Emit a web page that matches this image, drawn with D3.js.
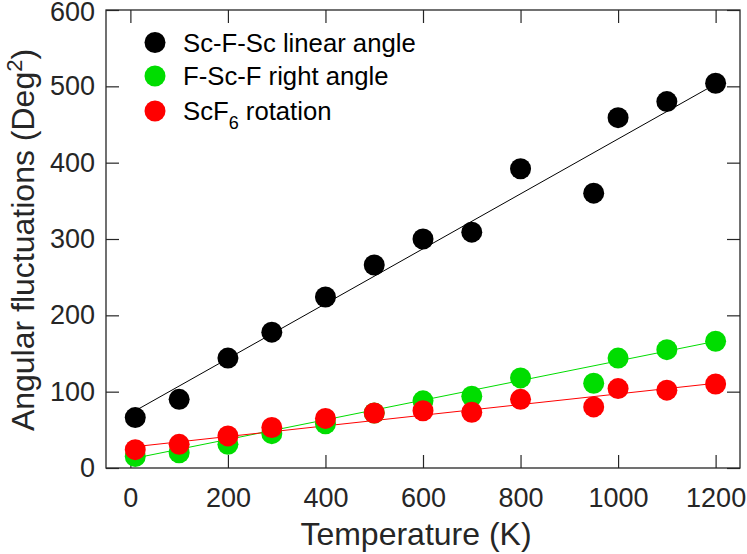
<!DOCTYPE html>
<html>
<head>
<meta charset="utf-8">
<script src="https://cdn.jsdelivr.net/npm/d3@7"></script>
<style>
  body { margin: 0; background: #fff; }
  text { font-family: "Liberation Sans", Arial, sans-serif; }
</style>
</head>
<body>
<div class="chart"></div>
<script>
// data
const temps = [10, 100, 200, 290, 400, 500, 600, 700, 800, 950, 1000, 1100, 1200];
const linearAngle = [66, 90, 144, 178, 224, 266, 300, 309, 392, 360, 459, 480, 504];
const rightAngle = [15, 20, 31, 45, 58, 72, 88, 94, 118, 111, 144, 155, 166];
const rotation = [24, 31, 42, 53, 65, 72, 75, 73, 90, 80, 104, 102, 110];

// fitted lines, endpoints
const fitT = [10, 1200];
const fitLinear = [75, 503];
const fitRight = [13, 166];
const fitRotation = [28, 111];

const xTicks = [0, 200, 400, 600, 800, 1000, 1200];
const yTicks = [0, 100, 200, 300, 400, 500, 600];

const series = [
    {name: 'Sc-F-Sc linear angle', color: '#000000', values: linearAngle, fit: fitLinear},
    {name: 'F-Sc-F right angle', color: '#00dd00', values: rightAngle, fit: fitRight},
    {name: 'ScF', sub: '6', rest: ' rotation', color: '#ff0000', values: rotation, fit: fitRotation}
];

const width = 747, height = 554;
const box = {left: 106, right: 740, top: 10, bottom: 468};
const axisColor = '#262626';

const svg = d3.select('.chart').append('svg')
    .attr('width', width).attr('height', height);

const x = d3.scaleLinear().domain([-50, 1250]).range([box.left, box.right]);
const y = d3.scaleLinear().domain([0, 600]).range([box.bottom, box.top]);

// axes, ticks inward on all four sides
const tickLen = 13;
const fmt = d3.format('d');
const xAxisB = d3.axisBottom(x).tickValues(xTicks).tickFormat(fmt).tickSizeInner(-tickLen).tickSizeOuter(0).tickPadding(20);
const xAxisT = d3.axisTop(x).tickValues(xTicks).tickSizeInner(-tickLen).tickSizeOuter(0).tickFormat('');
const yAxisL = d3.axisLeft(y).tickValues(yTicks).tickFormat(fmt).tickSizeInner(-tickLen).tickSizeOuter(0).tickPadding(11);
const yAxisR = d3.axisRight(y).tickValues(yTicks).tickSizeInner(-tickLen).tickSizeOuter(0).tickFormat('');

function styleAxis(g){
    g.select('.domain').remove();
    g.selectAll('line').attr('stroke', axisColor).attr('stroke-width', 1.2);
    g.selectAll('text').attr('fill', axisColor).style('font-size', '27px');
}

svg.append('g').attr('transform', `translate(0,${box.bottom})`).call(xAxisB).call(styleAxis);
svg.append('g').attr('transform', `translate(0,${box.top})`).call(xAxisT).call(styleAxis);
const yAxisDraw = svg.append('g').attr('transform', `translate(${box.left},0)`).call(yAxisL).call(styleAxis);
svg.append('g').attr('transform', `translate(${box.right},0)`).call(yAxisR).call(styleAxis);
// top label sits right at the edge, nudge it down a touch
yAxisDraw.selectAll('.tick').filter(d => d === 600).select('text').attr('dy', '0.4em');

svg.append('rect')
    .attr('x', box.left).attr('y', box.top)
    .attr('width', box.right - box.left).attr('height', box.bottom - box.top)
    .attr('fill', 'none').attr('stroke', axisColor).attr('stroke-width', 1.3);

// fit lines and points
const line = d3.line().x(d => x(d[0])).y(d => y(d[1]));
series.forEach(s => {
    svg.append('path')
        .datum(fitT.map((t, i) => [t, s.fit[i]]))
        .attr('d', line)
        .attr('fill', 'none').attr('stroke', s.color).attr('stroke-width', 1);
});
series.forEach(s => {
    svg.append('g').selectAll('circle')
        .data(temps.map((t, i) => [t, s.values[i]]))
        .enter().append('circle')
        .attr('cx', d => x(d[0])).attr('cy', d => y(d[1]))
        .attr('r', 10.5)
        .attr('fill', s.color);
});

// legend
const legendRows = [51.5, 85, 120];
series.forEach((s, i) => {
    const g = svg.append('g');
    g.append('circle').attr('cx', 155).attr('cy', legendRows[i] - 9).attr('r', 10.5).attr('fill', s.color);
    const t = g.append('text').attr('x', 183).attr('y', legendRows[i])
        .attr('fill', '#000').style('font-size', '25.7px');
    if (s.sub) {
        t.append('tspan').text(s.name);
        t.append('tspan').text(s.sub).attr('dy', 9).style('font-size', '18px');
        t.append('tspan').text(s.rest).attr('dy', -9);
    } else {
        t.text(s.name);
    }
});

// axis titles
svg.append('text')
    .attr('x', 416).attr('y', 545)
    .attr('text-anchor', 'middle')
    .attr('fill', axisColor).style('font-size', '32px')
    .text('Temperature (K)');

const yTitle = svg.append('text')
    .attr('transform', 'translate(34,240) rotate(-90)')
    .attr('text-anchor', 'middle')
    .attr('fill', axisColor).style('font-size', '32px');
yTitle.append('tspan').text('Angular fluctuations (Deg');
yTitle.append('tspan').text('2').attr('dy', -12).style('font-size', '22px');
yTitle.append('tspan').text(')').attr('dy', 12);
</script>
</body>
</html>
